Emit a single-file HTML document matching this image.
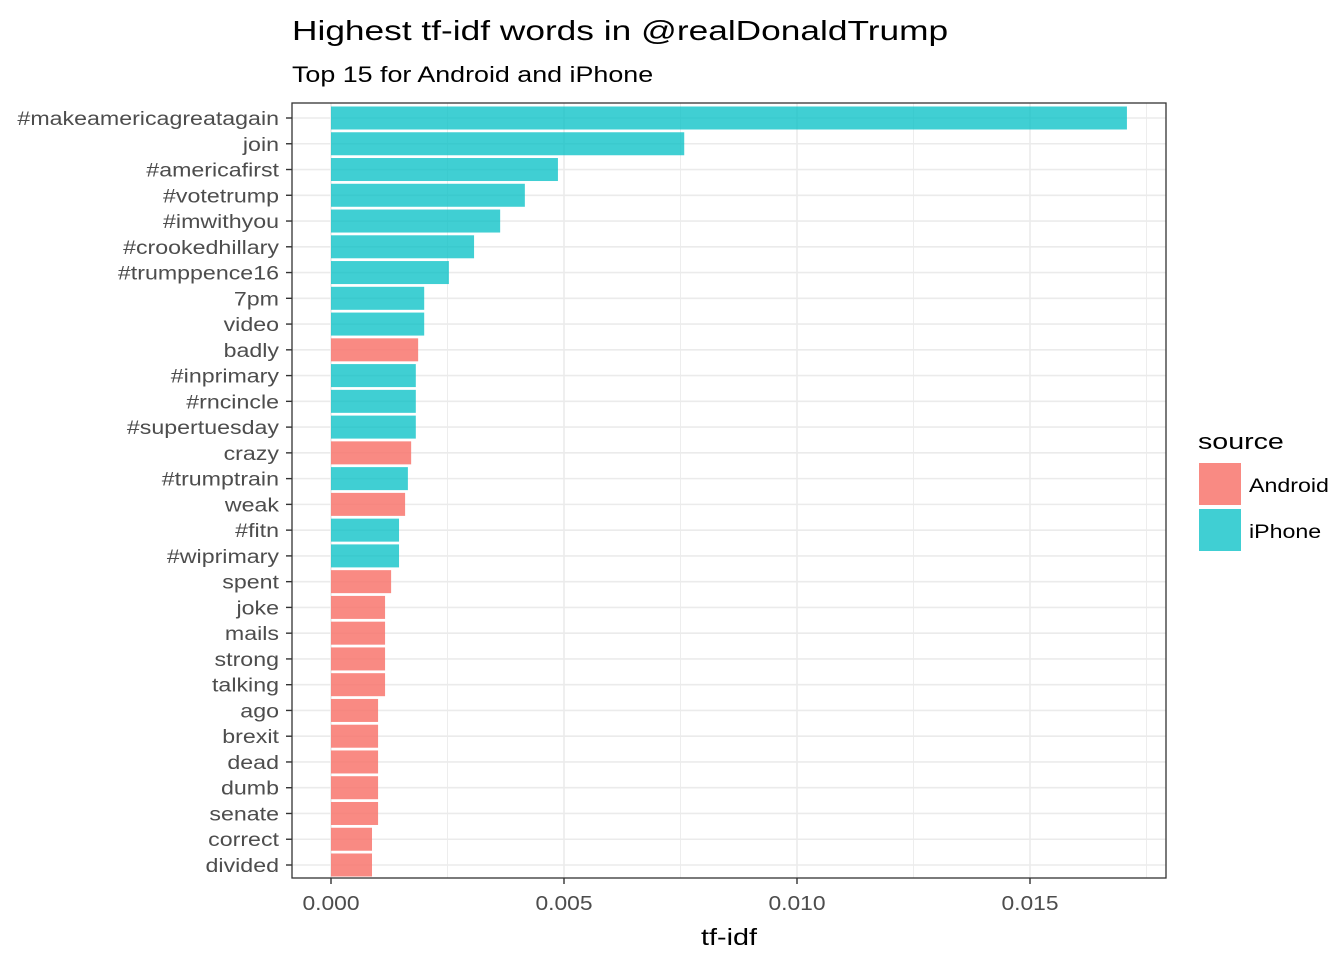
<!DOCTYPE html>
<html><head><meta charset="utf-8"><style>
body{margin:0;background:#fff;font-family:"Liberation Sans",Arial,sans-serif;}
</style></head><body>
<svg id="chart" width="1344" height="960" xmlns="http://www.w3.org/2000/svg">
<text class="st" data-f="1.26" x="292" y="40" font-size="28" fill="#000">Highest tf-idf words in @realDonaldTrump</text>
<text class="st" data-f="1.22" x="292" y="82" font-size="22" fill="#000">Top 15 for Android and iPhone</text>
<g id="grid"></g><g id="bars"></g><g id="axes"></g>
<rect x="292" y="103" width="874" height="775" fill="none" stroke="#333" stroke-width="1.3"/>
<text class="st" data-f="1.25" x="729" y="945" font-size="23" text-anchor="middle" fill="#000">tf-idf</text>
<g>
<text class="st" data-f="1.3" x="1198" y="449" font-size="22" fill="#000">source</text>
<rect x="1199" y="463" width="42" height="42" fill="#F8766D" opacity="0.85"/>
<text class="st" data-f="1.22" x="1249" y="492" font-size="19" fill="#000">Android</text>
<rect x="1199" y="509" width="42" height="42" fill="#00BFC4" opacity="0.75"/>
<text class="st" data-f="1.22" x="1249" y="538" font-size="19" fill="#000">iPhone</text>
</g>
</svg>
<script>
const words=["#makeamericagreatagain","join","#americafirst","#votetrump","#imwithyou","#crookedhillary","#trumppence16","7pm","video","badly","#inprimary","#rncincle","#supertuesday","crazy","#trumptrain","weak","#fitn","#wiprimary","spent","joke","mails","strong","talking","ago","brexit","dead","dumb","senate","correct","divided"];
const values=[0.01708,0.00758,0.00487,0.00416,0.00363,0.00307,0.00253,0.00200,0.00200,0.00187,0.00182,0.00182,0.00182,0.00172,0.00165,0.00159,0.00146,0.00146,0.00129,0.00116,0.00116,0.00116,0.00116,0.00101,0.00101,0.00101,0.00101,0.00101,0.00088,0.00088];
const sources=["iPhone","iPhone","iPhone","iPhone","iPhone","iPhone","iPhone","iPhone","iPhone","Android","iPhone","iPhone","iPhone","Android","iPhone","Android","iPhone","iPhone","Android","Android","Android","Android","Android","Android","Android","Android","Android","Android","Android","Android"];
const ticks=[0,0.005,0.010,0.015];
const tickLabels=["0.000","0.005","0.010","0.015"];
const NS="http://www.w3.org/2000/svg";
const x=v=>331+v*46600;
const y0=118,step=(865-118)/29;
const y=i=>y0+i*step;
const grid=document.getElementById('grid'),bars=document.getElementById('bars'),axes=document.getElementById('axes');
function mk(tag,attrs,parent){const e=document.createElementNS(NS,tag);for(const k in attrs)e.setAttribute(k,attrs[k]);parent.appendChild(e);return e;}
ticks.forEach((t,i)=>{
  const g=mk('line',{x1:x(t),x2:x(t),y1:103,y2:878,stroke:'#ebebeb','stroke-width':1.6},grid);
  
  
  const m=mk('line',{x1:x(t+0.0025),x2:x(t+0.0025),y1:103,y2:878,stroke:'#ebebeb','stroke-width':0.9},grid);
  
  
  const tk=mk('line',{x1:x(t),x2:x(t),y1:878,y2:884,stroke:'#333','stroke-width':1.4},axes);
  
  
  const tl=mk('text',{x:x(t),y:910,'font-size':20,'text-anchor':'middle',fill:'#4d4d4d',class:'st','data-f':'1.14'},axes);
  tl.textContent=tickLabels[i];
  
  
});
words.forEach((w,i)=>{
  const g=mk('line',{x1:292,x2:1166,y1:y(i),y2:y(i),stroke:'#ebebeb','stroke-width':1.6},grid);
  
  
  const a=sources[i]==='Android';
  const b=mk('rect',{x:x(0),y:y(i)-11.5,width:x(values[i])-x(0),height:23,fill:a?'#F8766D':'#00BFC4',opacity:a?0.85:0.75},bars);
  
  
  const tk=mk('line',{x1:286,x2:292,y1:y(i),y2:y(i),stroke:'#333','stroke-width':1.4},axes);
  
  
  const tl=mk('text',{x:279,y:y(i)+7,'font-size':19,'text-anchor':'end',fill:'#4d4d4d',class:'st','data-f':'1.22'},axes);
  tl.textContent=w;
  
  
});
document.querySelectorAll('text.st').forEach(el=>{
  const f=parseFloat(el.getAttribute('data-f'));
  el.setAttribute('textLength',el.getComputedTextLength()*f);
  el.setAttribute('lengthAdjust','spacingAndGlyphs');
});
</script>
</body></html>
